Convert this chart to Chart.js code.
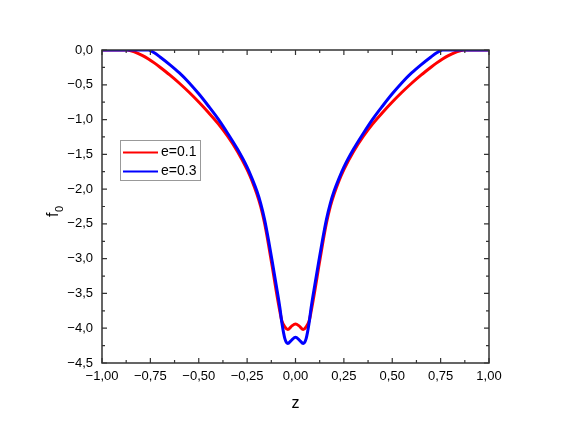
<!DOCTYPE html>
<html>
<head>
<meta charset="utf-8">
<script src="https://cdn.jsdelivr.net/npm/chart.js@4/dist/chart.umd.min.js"></script>
<style>
  body { margin: 0; background: #fff; }
  canvas { display: block; }
</style>
</head>
<body>
<canvas id="chart" width="569" height="436"></canvas>
<script>
// data
const zValues = [-1, -0.95, -0.9, -0.87, -0.83, -0.79, -0.76, -0.73, -0.7, -0.65, -0.6, -0.55, -0.5, -0.45, -0.4, -0.35, -0.3, -0.25, -0.225, -0.2, -0.18, -0.16, -0.14, -0.12, -0.1, -0.08, -0.07, -0.055, -0.04, -0.02, 0,
  0.02, 0.04, 0.055, 0.07, 0.08, 0.1, 0.12, 0.14, 0.16, 0.18, 0.2, 0.225, 0.25, 0.3, 0.35, 0.4, 0.45, 0.5, 0.55, 0.6, 0.65, 0.7, 0.73, 0.76, 0.79, 0.83, 0.87, 0.9, 0.95, 1];

const e01 = [0, 0, 0, 0, -0.03, -0.08, -0.128, -0.185, -0.248, -0.358, -0.478, -0.608, -0.748, -0.898, -1.058, -1.243, -1.458, -1.718, -1.878, -2.068, -2.248, -2.488, -2.788, -3.118, -3.458, -3.77, -3.9, -3.98, -4.02, -3.97, -3.94,
  -3.97, -4.02, -3.98, -3.9, -3.77, -3.458, -3.118, -2.788, -2.488, -2.248, -2.068, -1.878, -1.718, -1.458, -1.243, -1.058, -0.898, -0.748, -0.608, -0.478, -0.358, -0.248, -0.185, -0.128, -0.08, -0.03, 0, 0, 0, 0];

const e03 = [0, 0, 0, 0, 0, 0, 0, -0.04, -0.1, -0.21, -0.33, -0.47, -0.63, -0.805, -0.99, -1.2, -1.425, -1.685, -1.845, -2.025, -2.205, -2.435, -2.725, -3.045, -3.375, -3.72, -3.93, -4.15, -4.22, -4.17, -4.13,
  -4.17, -4.22, -4.15, -3.93, -3.72, -3.375, -3.045, -2.725, -2.435, -2.205, -2.025, -1.845, -1.685, -1.425, -1.2, -0.99, -0.805, -0.63, -0.47, -0.33, -0.21, -0.1, -0.04, 0, 0, 0, 0, 0, 0, 0];

const seriesNames = ['e=0.1', 'e=0.3'];
const seriesColors = ['#ff0000', '#0000ff'];

const xTicks = [-1, -0.75, -0.5, -0.25, 0, 0.25, 0.5, 0.75, 1];
const yTicks = [-4.5, -4, -3.5, -3, -2.5, -2, -1.5, -1, -0.5, 0];

const FONT = "'Liberation Sans', Arial, sans-serif";

function fmt(v, digits) {
    if (Math.abs(v) < 1e-9) v = 0;
    return v.toFixed(digits).replace('.', ',').replace('-', '\u2212');
}

function toPoints(ys) {
    return zValues.map((z, i) => ({x: z, y: ys[i]}));
}

// frame, inward ticks, axis titles and legend
const decorations = {
    id: 'decorations',
    afterDraw(chart) {
        const ctx = chart.ctx;
        const a = chart.chartArea;
        const xs = chart.scales.x, ys = chart.scales.y;
        ctx.save();
        ctx.strokeStyle = '#333';
        ctx.lineWidth = 1.5;
        ctx.strokeRect(a.left, a.top, a.right - a.left, a.bottom - a.top);

        ctx.lineWidth = 1.2;
        ctx.beginPath();
        for (let i = 0; i < xTicks.length; i++) {
            const px = xs.getPixelForValue(xTicks[i]);
            ctx.moveTo(px, a.bottom); ctx.lineTo(px, a.bottom - 5);
            ctx.moveTo(px, a.top); ctx.lineTo(px, a.top + 5);
            if (i < xTicks.length - 1) {
                const mx = xs.getPixelForValue((xTicks[i] + xTicks[i + 1]) / 2);
                ctx.moveTo(mx, a.bottom); ctx.lineTo(mx, a.bottom - 3);
                ctx.moveTo(mx, a.top); ctx.lineTo(mx, a.top + 3);
            }
        }
        for (let i = 0; i < yTicks.length; i++) {
            const py = ys.getPixelForValue(yTicks[i]);
            ctx.moveTo(a.left, py); ctx.lineTo(a.left + 5, py);
            ctx.moveTo(a.right, py); ctx.lineTo(a.right - 5, py);
            if (i < yTicks.length - 1) {
                const my = ys.getPixelForValue((yTicks[i] + yTicks[i + 1]) / 2);
                ctx.moveTo(a.left, my); ctx.lineTo(a.left + 3, my);
                ctx.moveTo(a.right, my); ctx.lineTo(a.right - 3, my);
            }
        }
        ctx.stroke();

        // axis titles
        ctx.fillStyle = '#000';
        ctx.font = '16px ' + FONT;
        ctx.textAlign = 'center';
        ctx.textBaseline = 'middle';
        ctx.fillText('z', (a.left + a.right) / 2, 404);

        ctx.save();
        ctx.translate(58, 212);
        ctx.rotate(-Math.PI / 2);
        ctx.textAlign = 'left';
        ctx.textBaseline = 'alphabetic';
        ctx.fillText('f', -5, 0);
        ctx.font = '11px ' + FONT;
        ctx.fillText('0', 0, 5);
        ctx.restore();

        // legend
        ctx.fillStyle = '#fff';
        ctx.fillRect(120.5, 140.5, 80, 40);
        ctx.strokeStyle = '#999';
        ctx.lineWidth = 1;
        ctx.strokeRect(120.5, 140.5, 80, 40);
        ctx.font = '14px ' + FONT;
        ctx.textAlign = 'left';
        ctx.textBaseline = 'middle';
        seriesNames.forEach((name, i) => {
            const ly = 152.5 + i * 19;
            ctx.strokeStyle = seriesColors[i];
            ctx.lineWidth = 2;
            ctx.beginPath();
            ctx.moveTo(123, ly); ctx.lineTo(158, ly);
            ctx.stroke();
            ctx.fillStyle = '#000';
            ctx.fillText(name, 161, ly);
        });
        ctx.restore();
    }
};

new Chart(document.getElementById('chart'), {
    type: 'line',
    data: {
        datasets: [
            {
                label: seriesNames[0],
                data: toPoints(e01),
                borderColor: seriesColors[0],
                borderWidth: 3,
                pointRadius: 0,
                cubicInterpolationMode: 'monotone',
                order: 2
            },
            {
                label: seriesNames[1],
                data: toPoints(e03),
                borderColor: seriesColors[1],
                borderWidth: 3,
                pointRadius: 0,
                cubicInterpolationMode: 'monotone',
                order: 1
            }
        ]
    },
    options: {
        responsive: false,
        animation: false,
        layout: { padding: { top: 50, right: 80, left: 0, bottom: 0 } },
        plugins: {
            legend: { display: false },
            tooltip: { enabled: false }
        },
        scales: {
            x: {
                type: 'linear',
                min: -1,
                max: 1,
                grid: { display: false, drawTicks: false },
                border: { display: false },
                afterBuildTicks: (s) => { s.ticks = xTicks.map(v => ({value: v})); },
                afterFit: (s) => { s.height = 73; },
                ticks: {
                    padding: 6,
                    maxRotation: 0,
                    color: '#000',
                    font: { family: FONT, size: 13 },
                    callback: (v) => fmt(v, 2)
                }
            },
            y: {
                type: 'linear',
                min: -4.5,
                max: 0,
                grid: { display: false, drawTicks: false },
                border: { display: false },
                afterBuildTicks: (s) => { s.ticks = yTicks.map(v => ({value: v})); },
                afterFit: (s) => { s.width = 102; },
                ticks: {
                    padding: 9,
                    color: '#000',
                    font: { family: FONT, size: 13 },
                    callback: (v) => fmt(v, 1)
                }
            }
        }
    },
    plugins: [decorations]
});
</script>
</body>
</html>
